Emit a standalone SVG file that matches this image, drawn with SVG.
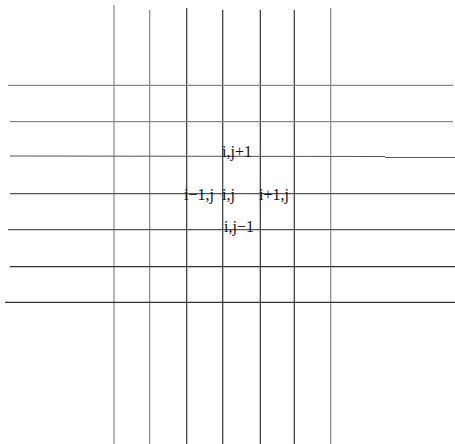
<svg xmlns="http://www.w3.org/2000/svg" width="455" height="444" viewBox="0 0 455 444">
<style>
.l{stroke-width:1.2;fill:none}
.d{stroke:#333}
.g{stroke:#888}
.m{stroke:#555}
text{font-family:"Liberation Serif","Times New Roman",serif;font-size:16px;fill:#111}
</style>
<rect width="455" height="444" fill="#fff"/>
<g id="connectors">
<line class="l g" x1="114" y1="5" x2="114" y2="444"/>
<line class="l g" x1="149.7" y1="10" x2="149.7" y2="444"/>
<line class="l d" x1="186.7" y1="8" x2="186.7" y2="444"/>
<line class="l d" x1="222.7" y1="10" x2="222.7" y2="444"/>
<line class="l d" x1="260.3" y1="10" x2="260.3" y2="444"/>
<line class="l d" x1="294.3" y1="10" x2="294.3" y2="444"/>
<line class="l g" x1="330.7" y1="8" x2="330.7" y2="444"/>
<line class="l g" x1="8" y1="85.3" x2="453" y2="85.3"/>
<line class="l g" x1="10" y1="121.7" x2="453" y2="121.7"/>
<line class="l m" x1="10" y1="156" x2="385" y2="156.5"/>
<line class="l m" x1="385" y1="157.5" x2="455" y2="157.5"/>
<line class="l m" x1="10" y1="193.7" x2="455" y2="193.7"/>
<line class="l m" x1="8" y1="229.7" x2="455" y2="229.7"/>
<line class="l d" x1="10" y1="266.7" x2="455" y2="266.7"/>
<line class="l d" x1="5" y1="302.3" x2="455" y2="302.3"/>
</g>
<g id="n-top"><text x="222" y="156.5">i,j+1</text></g>
<g id="n-left"><text x="184" y="199.5">i−1,j</text></g>
<g id="n-center"><text x="222" y="199.5">i,j</text></g>
<g id="n-right"><text x="259" y="199.5">i+1,j</text></g>
<g id="n-bottom"><text x="224" y="231.5">i,j−1</text></g>
</svg>
